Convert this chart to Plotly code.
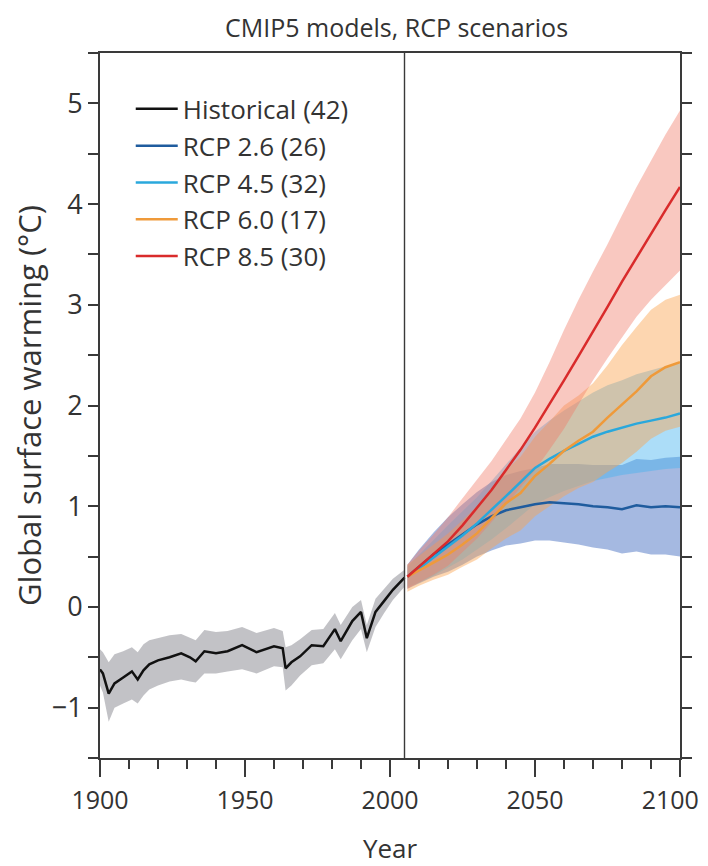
import plotly.graph_objects as go

# ---------------- data ----------------
HIST_END = 2005

hist_years = [1900, 1901, 1903, 1905, 1908, 1911, 1913, 1915, 1917, 1920, 1924, 1928,
              1931, 1933, 1936, 1940, 1944, 1949, 1954, 1960, 1963, 1964, 1966, 1969,
              1973, 1977, 1981, 1983, 1987, 1990, 1992, 1995, 1998, 2001, 2005]
hist_mean = [-0.62, -0.66, -0.86, -0.76, -0.70, -0.64, -0.72, -0.63, -0.57, -0.53, -0.50, -0.46,
             -0.50, -0.54, -0.44, -0.46, -0.44, -0.38, -0.45, -0.39, -0.41, -0.61, -0.55, -0.49,
             -0.38, -0.39, -0.22, -0.34, -0.14, -0.05, -0.31, -0.05, 0.06, 0.17, 0.29]
hist_lo = [-0.78, -0.85, -1.14, -1.00, -0.96, -0.92, -0.96, -0.88, -0.82, -0.78, -0.74, -0.72,
           -0.74, -0.75, -0.66, -0.66, -0.64, -0.62, -0.66, -0.59, -0.60, -0.83, -0.78, -0.68,
           -0.58, -0.56, -0.42, -0.52, -0.33, -0.22, -0.45, -0.20, -0.06, 0.07, 0.20]
hist_hi = [-0.42, -0.45, -0.55, -0.47, -0.44, -0.40, -0.45, -0.37, -0.33, -0.31, -0.28, -0.27,
           -0.31, -0.33, -0.23, -0.25, -0.24, -0.20, -0.26, -0.21, -0.24, -0.40, -0.38, -0.32,
           -0.23, -0.22, -0.06, -0.18, 0.00, 0.07, -0.18, 0.08, 0.18, 0.28, 0.37]

rcp_years = [2006, 2010, 2015, 2020, 2025, 2030, 2035, 2040, 2045, 2050,
             2055, 2060, 2065, 2070, 2075, 2080, 2085, 2090, 2095, 2100]

rcp26_mean = [0.30, 0.40, 0.52, 0.62, 0.72, 0.82, 0.90, 0.96, 0.99, 1.02,
              1.04, 1.03, 1.02, 1.00, 0.99, 0.97, 1.01, 0.99, 1.00, 0.99]
rcp26_lo = [0.18, 0.23, 0.30, 0.35, 0.42, 0.50, 0.56, 0.61, 0.63, 0.66,
            0.66, 0.64, 0.62, 0.59, 0.57, 0.53, 0.55, 0.52, 0.52, 0.50]
rcp26_hi = [0.42, 0.57, 0.74, 0.89, 1.02, 1.14, 1.24, 1.31, 1.35, 1.38,
            1.42, 1.42, 1.42, 1.41, 1.41, 1.41, 1.47, 1.46, 1.48, 1.49]

rcp45_mean = [0.30, 0.38, 0.49, 0.60, 0.71, 0.83, 0.96, 1.10, 1.24, 1.38,
              1.47, 1.55, 1.62, 1.69, 1.74, 1.78, 1.82, 1.85, 1.88, 1.92]
rcp45_lo = [0.20, 0.24, 0.31, 0.39, 0.47, 0.57, 0.67, 0.78, 0.90, 1.02,
            1.09, 1.15, 1.20, 1.25, 1.28, 1.31, 1.33, 1.35, 1.37, 1.38]
rcp45_hi = [0.40, 0.52, 0.67, 0.81, 0.95, 1.09, 1.25, 1.42, 1.58, 1.74,
            1.85, 1.95, 2.04, 2.13, 2.20, 2.25, 2.31, 2.35, 2.39, 2.42]

rcp60_mean = [0.30, 0.36, 0.44, 0.52, 0.62, 0.73, 0.88, 1.03, 1.13, 1.30,
              1.42, 1.55, 1.65, 1.74, 1.88, 2.01, 2.14, 2.29, 2.38, 2.43]
rcp60_lo = [0.15, 0.21, 0.27, 0.32, 0.40, 0.47, 0.58, 0.68, 0.76, 0.90,
            1.00, 1.10, 1.18, 1.24, 1.34, 1.43, 1.54, 1.67, 1.75, 1.79]
rcp60_hi = [0.42, 0.51, 0.62, 0.73, 0.86, 1.00, 1.18, 1.36, 1.49, 1.69,
            1.84, 2.00, 2.10, 2.22, 2.40, 2.60, 2.78, 2.95, 3.05, 3.10]

rcp85_mean = [0.30, 0.40, 0.52, 0.65, 0.81, 0.98, 1.16, 1.36, 1.56, 1.78,
              2.01, 2.25, 2.49, 2.73, 2.98, 3.23, 3.47, 3.70, 3.94, 4.17]
rcp85_lo = [0.18, 0.24, 0.32, 0.41, 0.54, 0.68, 0.84, 1.01, 1.18, 1.36,
            1.56, 1.77, 2.01, 2.25, 2.47, 2.68, 2.88, 3.05, 3.20, 3.34]
rcp85_hi = [0.42, 0.56, 0.72, 0.89, 1.08, 1.26, 1.45, 1.66, 1.87, 2.13,
            2.43, 2.75, 3.05, 3.33, 3.60, 3.89, 4.17, 4.43, 4.69, 4.93]

series_names = ["Historical (42)", "RCP 2.6 (26)", "RCP 4.5 (32)", "RCP 6.0 (17)", "RCP 8.5 (30)"]

y_tick_vals = [-1, 0, 1, 2, 3, 4, 5]
x_tick_vals = [1900, 1950, 2000, 2050, 2100]
x_tick_text = ["1900", "1950", "2000", "2050", "2100&nbsp;&nbsp;&nbsp;"]  # pad keeps last label inside the page

# ---------------- styles ----------------
FONT = "Open Sans"
TXT = "#333333"
AX = "#3a3a3a"
FIG_W, FIG_H = 700, 858   # page body adds an 8 px margin on top/left

line_colors = ["#111111", "#1f5c9e", "#2aa8dc", "#ef9a3a", "#d92b2b"]
band_colors = ["rgba(150,150,156,0.58)", "rgba(75,115,195,0.5)", "rgba(70,180,240,0.45)",
               "rgba(250,165,80,0.45)", "rgba(240,125,105,0.42)"]

fig = go.Figure()

def add_band(x, lo, hi, color):
    fig.add_trace(go.Scatter(x=x, y=lo, mode="lines", line=dict(width=0),
                             showlegend=False, hoverinfo="skip"))
    fig.add_trace(go.Scatter(x=x, y=hi, mode="lines", line=dict(width=0),
                             fill="tonexty", fillcolor=color,
                             showlegend=False, hoverinfo="skip"))

add_band(hist_years, hist_lo, hist_hi, band_colors[0])
add_band(rcp_years, rcp26_lo, rcp26_hi, band_colors[1])
add_band(rcp_years, rcp45_lo, rcp45_hi, band_colors[2])
add_band(rcp_years, rcp60_lo, rcp60_hi, band_colors[3])
add_band(rcp_years, rcp85_lo, rcp85_hi, band_colors[4])

means = [(hist_years, hist_mean), (rcp_years, rcp26_mean), (rcp_years, rcp45_mean),
         (rcp_years, rcp60_mean), (rcp_years, rcp85_mean)]
for (xs, ys), name, col in zip(means, series_names, line_colors):
    fig.add_trace(go.Scatter(x=xs, y=ys, mode="lines", name=name,
                             line=dict(color=col, width=2.5)))

fig.add_shape(type="line", x0=HIST_END, x1=HIST_END, xref="x", y0=0, y1=1, yref="paper",
              line=dict(color=AX, width=1.4))

fig.update_layout(
    width=FIG_W, height=FIG_H,
    margin=dict(l=92, r=28, t=45, b=108),
    paper_bgcolor="white", plot_bgcolor="white",
    font=dict(family=FONT, color=TXT),
    title=dict(text="CMIP5 models, RCP scenarios", x=0.555, xanchor="center",
               y=1 - 20 / FIG_H, yref="container", yanchor="middle",
               font=dict(size=25, color=TXT)),
    legend=dict(x=0.053, y=0.954, xanchor="left", yanchor="top", traceorder="normal",
                font=dict(size=26, color=TXT), itemwidth=42,
                bgcolor="rgba(0,0,0,0)", tracegroupgap=0),
    showlegend=True,
)

fig.update_xaxes(range=[1900, 2100], tickvals=x_tick_vals, ticktext=x_tick_text,
                 ticks="outside", ticklen=17,
                 tickwidth=1.6, tickcolor=AX, showline=True, linecolor=AX, linewidth=1.8,
                 mirror=True, showgrid=False, zeroline=False, automargin=False,
                 ticklabeloverflow="allow",
                 tickfont=dict(size=25, color=TXT), ticklabelstandoff=2,
                 minor=dict(dtick=10, ticks="outside", ticklen=9, tickwidth=1.6, tickcolor=AX,
                            showgrid=False),
                 title=dict(text="Year", font=dict(size=26, color=TXT), standoff=27))

fig.update_yaxes(range=[-1.5, 5.5], tickvals=y_tick_vals, ticks="outside", ticklen=10,
                 tickwidth=1.6, tickcolor=AX, showline=True, linecolor=AX, linewidth=1.8,
                 mirror="ticks", showgrid=False, zeroline=False, automargin=False,
                 tickfont=dict(size=27, color=TXT),
                 minor=dict(dtick=0.5, ticks="outside", ticklen=10, tickwidth=1.6, tickcolor=AX,
                            showgrid=False),
                 title=dict(text="Global surface warming (°C)", font=dict(size=31, color=TXT),
                            standoff=4))

fig.write_html("out.html")
